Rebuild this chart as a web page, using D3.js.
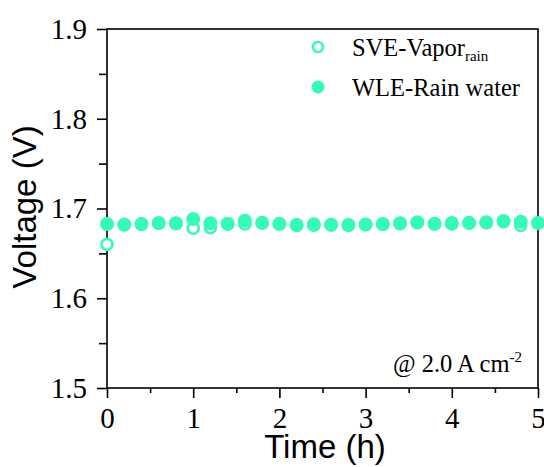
<!DOCTYPE html>
<html><head><meta charset="utf-8">
<script src="https://cdn.jsdelivr.net/npm/d3@7"></script>
<style>body{margin:0;background:#fff}</style>
</head><body>
<svg id="c" width="544" height="467"></svg>
<script>
const timesH = [0,0.2,0.4,0.6,0.8,1.0,1.2,1.4,1.6,1.8,2.0,2.2,2.4,2.6,2.8,3.0,3.2,3.4,3.6,3.8,4.0,4.2,4.4,4.6,4.8,5.0];
const wleRainWater = [1.6827,1.682,1.6827,1.6838,1.6835,1.6883,1.6835,1.683,1.6864,1.684,1.683,1.6816,1.6816,1.682,1.6816,1.6823,1.6827,1.6835,1.6846,1.683,1.6838,1.684,1.6846,1.686,1.6853,1.684];
const sveVaporRain = [1.660,1.682,1.6825,1.6835,1.6832,1.678,1.6787,1.6828,1.6827,1.6838,1.6828,1.6815,1.6828,1.6818,1.6815,1.682,1.6825,1.6832,1.6842,1.6828,1.6828,1.6835,1.6842,1.6852,1.681,1.6835];
const xTicks = [0,1,2,3,4,5];
const yTicks = [1.5,1.6,1.7,1.8,1.9];
const color = "#36F9BA";

const svg = d3.select("#c");
const L=107,R=538,T=29,B=388;
const x = d3.scaleLinear().domain([0,5]).range([L,R]);
const y = d3.scaleLinear().domain([1.5,1.9]).range([B,T]);
const serif = "'Liberation Serif','Times New Roman',serif";
const sans = "'Liberation Sans',Arial,sans-serif";

// frame
svg.append("rect").attr("x",L).attr("y",T).attr("width",R-L).attr("height",B-T)
  .attr("fill","none").attr("stroke","#000").attr("stroke-width",1.6);

// x axis
const xAxis = d3.axisBottom(x).tickValues(xTicks).tickSize(10).tickPadding(9).tickFormat(d3.format("d"));
const gx = svg.append("g").attr("transform",`translate(0,${B})`).call(xAxis);
gx.select(".domain").remove();
gx.selectAll("line").attr("stroke-width",1.6);
gx.selectAll("text").attr("font-family",serif).attr("font-size",29).attr("fill","#000");
const gxm = svg.append("g").attr("transform",`translate(0,${B})`)
  .call(d3.axisBottom(x).tickValues([0.5,1.5,2.5,3.5,4.5]).tickSize(5).tickFormat(""));
gxm.select(".domain").remove();
gxm.selectAll("line").attr("stroke-width",1.6);

// y axis
const yAxis = d3.axisLeft(y).tickValues(yTicks).tickSize(10).tickPadding(10).tickFormat(d3.format(".1f"));
const gy = svg.append("g").attr("transform",`translate(${L},0)`).call(yAxis);
gy.select(".domain").remove();
gy.selectAll("line").attr("stroke-width",1.6);
gy.selectAll("text").attr("font-family",serif).attr("font-size",29).attr("fill","#000");
const gym = svg.append("g").attr("transform",`translate(${L},0)`)
  .call(d3.axisLeft(y).tickValues([1.55,1.65,1.75,1.85]).tickSize(8).tickFormat(""));
gym.select(".domain").remove();
gym.selectAll("line").attr("stroke-width",1.6);

// titles
svg.append("text").attr("x",325).attr("y",458).attr("text-anchor","middle")
  .attr("font-family",sans).attr("font-size",33).text("Time (h)");
svg.append("text").attr("transform",`translate(36,${207}) rotate(-90)`).attr("text-anchor","middle")
  .attr("font-family",sans).attr("font-size",33).text("Voltage (V)");

// data
svg.append("g").selectAll("circle").data(timesH).join("circle")
  .attr("cx",d=>x(d)).attr("cy",(d,i)=>y(sveVaporRain[i])).attr("r",5.5)
  .attr("fill","#fff").attr("stroke",color).attr("stroke-width",2.6);
svg.append("g").selectAll("circle").data(timesH).join("circle")
  .attr("cx",d=>x(d)).attr("cy",(d,i)=>y(wleRainWater[i])).attr("r",7)
  .attr("fill",color);

// legend
svg.append("circle").attr("cx",318).attr("cy",47).attr("r",5).attr("fill","#fff").attr("stroke",color).attr("stroke-width",2.6);
svg.append("circle").attr("cx",318).attr("cy",87).attr("r",6.5).attr("fill",color);
const t1 = svg.append("text").attr("x",352).attr("y",56).attr("font-family",serif).attr("font-size",24.5);
t1.append("tspan").text("SVE-Vapor");
t1.append("tspan").attr("dy",5).attr("font-size",15).text("rain");
svg.append("text").attr("x",352).attr("y",96).attr("font-family",serif).attr("font-size",24.5).text("WLE-Rain water");

// annotation
const t2 = svg.append("text").attr("x",393).attr("y",372).attr("font-family",serif).attr("font-size",24.5);
t2.append("tspan").text("@ 2.0 A cm");
t2.append("tspan").attr("dy",-10).attr("font-size",15).text("-2");
</script>
</body></html>
